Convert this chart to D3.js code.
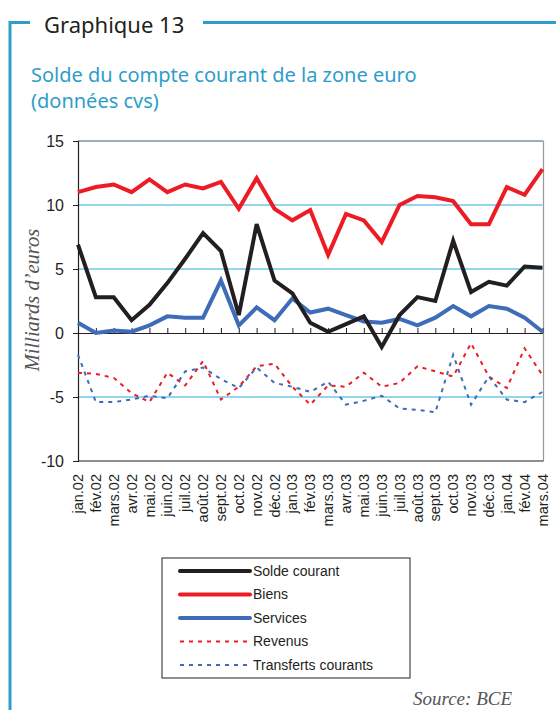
<!DOCTYPE html>
<meta charset="utf-8">
<style>
  body { margin: 0; background: #fff; }
  svg { display: block; }
  .tick text { font-family: "Liberation Sans", Arial, sans-serif; }
</style>
<body>
<svg id="chart" width="556" height="710"></svg>
<script src="https://cdn.jsdelivr.net/npm/d3@7"></script>
<script>
  // months jan.02 -> mars.04
  const months = ["jan.02", "fév.02", "mars.02", "avr.02", "mai.02", "juin.02", "juil.02", "août.02",
    "sept.02", "oct.02", "nov.02", "déc.02", "jan.03", "fév.03", "mars.03", "avr.03", "mai.03",
    "juin.03", "juil.03", "août.03", "sept.03", "oct.03", "nov.03", "déc.03", "jan.04", "fév.04", "mars.04"];

  const soldeCourant = [6.9, 2.8, 2.8, 1.0, 2.2, 3.9, 5.8, 7.8, 6.4, 1.4, 8.5, 4.1, 3.1, 0.8, 0.1, 0.7, 1.3,
    -1.1, 1.4, 2.8, 2.5, 7.2, 3.2, 4.0, 3.7, 5.2, 5.1];
  const biens = [11.0, 11.4, 11.6, 11.0, 12.0, 11.0, 11.6, 11.3, 11.8, 9.7, 12.1, 9.7, 8.8, 9.6, 6.1, 9.3,
    8.8, 7.1, 10.0, 10.7, 10.6, 10.3, 8.5, 8.5, 11.4, 10.8, 12.8];
  const services = [0.8, 0.0, 0.2, 0.1, 0.6, 1.3, 1.2, 1.2, 4.1, 0.6, 2.0, 1.0, 2.7, 1.6, 1.9, 1.4, 0.9,
    0.8, 1.1, 0.6, 1.2, 2.1, 1.3, 2.1, 1.9, 1.2, 0.1];
  const revenus = [-3.1, -3.2, -3.5, -4.7, -5.4, -3.1, -4.1, -2.2, -5.2, -4.2, -2.6, -2.4, -4.2, -5.6,
    -4.1, -4.2, -3.1, -4.2, -3.9, -2.6, -3.0, -3.4, -0.8, -3.4, -4.3, -1.2, -3.3];
  const transferts = [-1.7, -5.4, -5.4, -5.2, -4.9, -5.1, -3.0, -2.7, -3.6, -4.3, -2.7, -3.9, -4.2, -4.6,
    -3.8, -5.6, -5.3, -4.9, -5.9, -6.0, -6.2, -1.7, -5.6, -3.4, -5.2, -5.4, -4.6];

  const yTicks = [-10, -5, 0, 5, 10, 15];
  const gridValues = [-5, 5, 10];

  const seriesList = [
    { name: "Solde courant", values: soldeCourant, color: "#231f20", width: 4, dash: null },
    { name: "Biens", values: biens, color: "#ed1c24", width: 4, dash: null },
    { name: "Services", values: services, color: "#3f6cb8", width: 4, dash: null },
    { name: "Revenus", values: revenus, color: "#ed1c24", width: 2, dash: "4,5" },
    { name: "Transferts courants", values: transferts, color: "#3f6cb8", width: 2, dash: "4,5" }
  ];

  const svg = d3.select("#chart");
  const frameColor = "#2e9dc9";

  // frame
  svg.append("path")
    .attr("d", "M10,710 L10,22.5 L30,22.5 M203,22.5 L556,22.5")
    .attr("fill", "none")
    .attr("stroke", frameColor)
    .attr("stroke-width", 3);

  svg.append("text")
    .attr("x", 44).attr("y", 33)
    .attr("font-family", "'Noto Sans', sans-serif")
    .attr("font-size", 22)
    .attr("fill", "#231f20")
    .text("Graphique 13");

  svg.append("text")
    .attr("x", 31).attr("y", 82)
    .attr("font-family", "'Noto Sans', sans-serif")
    .attr("font-size", 20)
    .attr("fill", frameColor)
    .text("Solde du compte courant de la zone euro");
  svg.append("text")
    .attr("x", 31).attr("y", 108)
    .attr("font-family", "'Noto Sans', sans-serif")
    .attr("font-size", 20)
    .attr("fill", frameColor)
    .text("(données cvs)");

  const plotL = 78, plotR = 542.5, plotT = 141, plotB = 461;
  const x = d3.scalePoint().domain(months).range([plotL, plotR]);
  const y = d3.scaleLinear().domain([-10, 15]).range([plotB, plotT]);

  // gridlines
  svg.append("g")
    .selectAll("line")
    .data(gridValues)
    .join("line")
    .attr("x1", plotL).attr("x2", plotR)
    .attr("y1", d => y(d)).attr("y2", d => y(d))
    .attr("stroke", "#29a9de")
    .attr("stroke-width", 1.2);

  // plot borders
  svg.append("line")
    .attr("x1", plotL).attr("x2", plotR + 1)
    .attr("y1", y(15)).attr("y2", y(15))
    .attr("stroke", "#3b5e72").attr("stroke-width", 1.2);
  svg.append("line")
    .attr("x1", plotR + 1).attr("x2", plotR + 1)
    .attr("y1", y(15)).attr("y2", y(-10))
    .attr("stroke", "#999").attr("stroke-width", 1.2);
  svg.append("line")
    .attr("x1", plotL).attr("x2", plotR + 1)
    .attr("y1", y(-10)).attr("y2", y(-10))
    .attr("stroke", "#231f20").attr("stroke-width", 1.2);

  // y axis
  const yAxis = svg.append("g")
    .attr("transform", `translate(${plotL},0)`)
    .call(d3.axisLeft(y).tickValues(yTicks).tickSize(5).tickFormat(d3.format("d")));
  yAxis.select(".domain").attr("stroke", "#231f20").attr("stroke-width", 1.2);
  yAxis.selectAll(".tick line").attr("stroke", "#231f20");
  yAxis.selectAll(".tick text")
    .attr("font-size", 16)
    .attr("fill", "#231f20")
    .attr("x", -14)
    .text(d => d < 0 ? "-" + Math.abs(d) : d);

  // x axis at zero, ticks pointing up
  const xAxis = svg.append("g")
    .attr("transform", `translate(0,${y(0)})`)
    .call(d3.axisTop(x).tickSize(5).tickSizeOuter(0).tickFormat(""));
  xAxis.select(".domain").attr("stroke", "#231f20").attr("stroke-width", 1.2);
  xAxis.selectAll(".tick line").attr("stroke", "#231f20");

  // month labels
  svg.append("g")
    .selectAll("text")
    .data(months)
    .join("text")
    .attr("transform", d => `translate(${x(d)},474) rotate(-90)`)
    .attr("text-anchor", "end")
    .attr("dy", "0.35em")
    .attr("font-family", "'Liberation Sans', Arial, sans-serif")
    .attr("font-size", 14.5)
    .attr("fill", "#231f20")
    .text(d => d);

  // y title
  svg.append("text")
    .attr("transform", "translate(39,300) rotate(-90)")
    .attr("text-anchor", "middle")
    .attr("font-family", "'Liberation Serif', 'Times New Roman', serif")
    .attr("font-style", "italic")
    .attr("font-size", 20.5)
    .attr("fill", "#555")
    .text("Milliards d’euros");

  // lines
  const line = d3.line()
    .x((d, i) => x(months[i]))
    .y(d => y(d));

  // dashed first, solid on top
  const order = [3, 4, 2, 0, 1];
  svg.append("g")
    .selectAll("path")
    .data(order.map(i => seriesList[i]))
    .join("path")
    .attr("d", d => line(d.values))
    .attr("fill", "none")
    .attr("stroke", d => d.color)
    .attr("stroke-width", d => d.width)
    .attr("stroke-dasharray", d => d.dash)
    .attr("stroke-linejoin", "miter");

  // legend
  const lg = svg.append("g");
  lg.append("rect")
    .attr("x", 162).attr("y", 558)
    .attr("width", 248).attr("height", 120)
    .attr("fill", "#fff")
    .attr("stroke", "#231f20").attr("stroke-width", 1);
  const rows = lg.selectAll("g.row")
    .data(seriesList)
    .join("g")
    .attr("class", "row")
    .attr("transform", (d, i) => `translate(0,${571 + i * 23.5})`);
  rows.append("line")
    .attr("x1", 180).attr("x2", 250)
    .attr("stroke", d => d.color)
    .attr("stroke-width", d => d.width)
    .attr("stroke-linecap", d => d.dash ? "butt" : "round")
    .attr("stroke-dasharray", d => d.dash);
  rows.append("text")
    .attr("x", 253)
    .attr("dy", "0.35em")
    .attr("font-family", "'Liberation Sans', Arial, sans-serif")
    .attr("font-size", 14)
    .attr("fill", "#231f20")
    .text(d => d.name);

  // source
  svg.append("text")
    .attr("x", 413).attr("y", 705)
    .attr("font-family", "'Liberation Serif', 'Times New Roman', serif")
    .attr("font-style", "italic")
    .attr("font-size", 19)
    .attr("fill", "#555")
    .text("Source: BCE");
</script>
</body>
